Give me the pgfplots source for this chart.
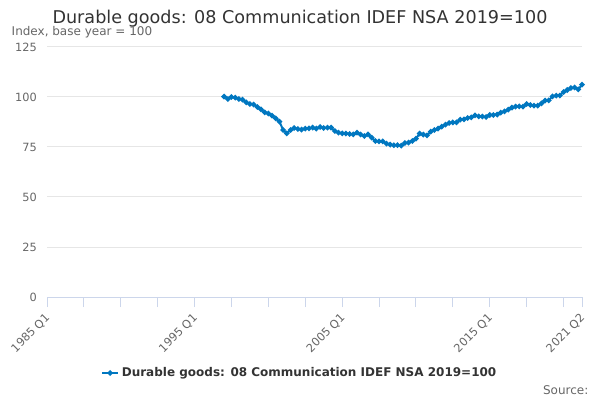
\documentclass[border=0pt]{standalone}
\usepackage{pgfplots}
\pgfplotsset{compat=1.18}
\usepackage{fontspec}
\setmainfont{DejaVu Sans}
\definecolor{lineblue}{HTML}{0077C0}
\definecolor{gridgray}{HTML}{E6E6E6}
\definecolor{axisblue}{HTML}{CCD6EB}
\definecolor{labgray}{HTML}{666666}
\definecolor{titlegray}{HTML}{333333}
\begin{document}
\begin{tikzpicture}[x=0.75pt,y=0.75pt]
\useasboundingbox (0,0) rectangle (600,400);
\begin{axis}[
  at={(35.25pt,77.25pt)}, anchor=south west,
  scale only axis, width=401.25pt, height=187.5pt,
  xmin=1985, xmax=2021.25, ymin=0, ymax=125,
  axis x line*=bottom, axis y line*=left,
  x axis line style={color=axisblue, line width=0.75pt},
  y axis line style={draw=none},
  xtick={1985,1995,2005,2015,2021.25},
  xticklabels={1985 Q1,1995 Q1,2005 Q1,2015 Q1,2021 Q2},
  minor xtick={1987.5,1990,1992.5,1997.5,2000,2002.5,2007.5,2010,2012.5,2017.5,2020},
  ytick={0,25,50,75,100,125},
  tick align=outside,
  major tick length=7.5pt, minor tick length=7.5pt,
  xtick style={color=axisblue, line width=0.75pt},
  minor x tick style={color=axisblue, line width=0.75pt},
  ytick style={draw=none},
  ymajorgrids, grid style={color=gridgray, line width=0.75pt},
  /pgf/number format/assume math mode=true,
  tick label style={font=\fontsize{8.5}{10}\selectfont, color=labgray},
  xticklabel style={xshift=-2pt, yshift=-4pt, rotate=45, anchor=north east, inner sep=0pt},
  yticklabel style={anchor=east, inner sep=0pt},
  legend style={at={(0.473,-0.304)}, anchor=center, draw=none, fill=none,
    font=\bfseries\fontsize{9}{11}\selectfont, text=titlegray},
  legend cell align=left,
  legend image code/.code={
    \draw[#1, mark repeat=2, mark phase=2] plot coordinates {(0pt,0pt) (6pt,0pt) (12pt,0pt)};
  },
  clip=false,
]
\addplot[color=lineblue, line width=1.5pt, mark=*, mark size=1.2pt, mark options={solid, fill=lineblue, draw=lineblue}]
coordinates {
(1997.00,100.2) (1997.25,99.0) (1997.50,100.0) (1997.75,99.7)
(1998.00,99.0) (1998.25,98.7) (1998.50,97.3) (1998.75,96.5)
(1999.00,96.2) (1999.25,95.0) (1999.50,93.8) (1999.75,92.3)
(2000.00,91.8) (2000.25,90.7) (2000.50,89.3) (2000.75,87.7)
(2001.00,83.5) (2001.25,81.8) (2001.50,83.5) (2001.75,84.5)
(2002.00,84.0) (2002.25,83.7) (2002.50,84.2) (2002.75,84.3)
(2003.00,84.7) (2003.25,84.2) (2003.50,85.0) (2003.75,84.5)
(2004.00,84.7) (2004.25,84.7) (2004.50,83.0) (2004.75,82.2)
(2005.00,81.8) (2005.25,81.7) (2005.50,81.5) (2005.75,81.3)
(2006.00,82.2) (2006.25,81.3) (2006.50,80.5) (2006.75,81.3)
(2007.00,79.7) (2007.25,78.0) (2007.50,77.8) (2007.75,77.8)
(2008.00,76.7) (2008.25,76.2) (2008.50,75.9) (2008.75,75.9)
(2009.00,75.7) (2009.25,77.0) (2009.50,77.2) (2009.75,78.0)
(2010.00,79.2) (2010.25,81.7) (2010.50,81.2) (2010.75,80.8)
(2011.00,82.7) (2011.25,83.5) (2011.50,84.2) (2011.75,85.2)
(2012.00,86.2) (2012.25,87.0) (2012.50,87.3) (2012.75,87.3)
(2013.00,88.7) (2013.25,88.8) (2013.50,89.5) (2013.75,89.8)
(2014.00,90.8) (2014.25,90.3) (2014.50,90.2) (2014.75,90.0)
(2015.00,91.0) (2015.25,91.0) (2015.50,91.2) (2015.75,92.2)
(2016.00,92.8) (2016.25,93.7) (2016.50,94.7) (2016.75,95.2)
(2017.00,95.3) (2017.25,95.2) (2017.50,96.5) (2017.75,96.0)
(2018.00,95.7) (2018.25,95.7) (2018.50,96.8) (2018.75,98.2)
(2019.00,98.3) (2019.25,100.3) (2019.50,100.7) (2019.75,100.7)
(2020.00,102.5) (2020.25,103.5) (2020.50,104.5) (2020.75,104.8)
(2021.00,103.8) (2021.25,106.2)
};
\addlegendentry{Durable goods: 08 Communication IDEF NSA 2019=100}
\end{axis}
\node[font=\fontsize{13.2}{16}\selectfont, text=titlegray] at (300,381) {Durable goods: 08 Communication IDEF NSA 2019=100};
\node[anchor=west, font=\fontsize{9}{11}\selectfont, text=labgray] at (7,368) {Index, base year = 100};
\node[anchor=east, font=\fontsize{9}{11}\selectfont, text=labgray] at (593,10) {Source:};
\end{tikzpicture}
\end{document}
